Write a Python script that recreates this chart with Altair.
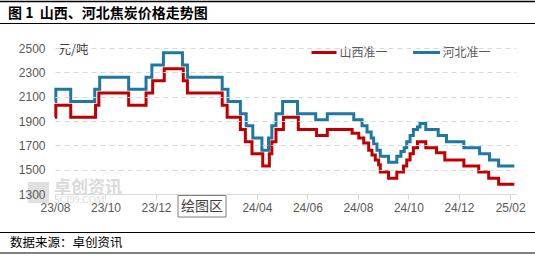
import altair as alt
import pandas as pd

# ---------------- data (step change points) ----------------
series_names = ["山西准一", "河北准一"]
series_colors = ["#C00000", "#1F77A4"]

sx_dates = ["2023-08-01", "2023-08-02", "2023-08-20", "2023-09-19", "2023-09-23", "2023-10-29",
            "2023-11-19", "2023-11-27", "2023-12-11", "2024-01-03", "2024-01-08", "2024-02-19",
            "2024-02-25", "2024-03-12", "2024-03-18", "2024-03-26", "2024-04-08", "2024-04-16",
            "2024-04-19", "2024-04-24", "2024-05-03", "2024-05-21", "2024-06-12", "2024-06-25",
            "2024-07-25", "2024-08-02", "2024-08-08", "2024-08-14", "2024-08-18", "2024-08-22",
            "2024-08-26", "2024-08-28", "2024-09-07", "2024-09-17", "2024-09-25", "2024-09-29",
            "2024-10-03", "2024-10-07", "2024-10-12", "2024-10-22", "2024-11-04", "2024-11-14",
            "2024-12-07", "2024-12-25", "2025-01-06", "2025-01-18", "2025-02-06"]
sx_values = [1930, 2030, 1930, 2030, 2130, 2030,
             2130, 2230, 2330, 2230, 2130, 2030,
             1930, 1830, 1730, 1630, 1530, 1630,
             1730, 1830, 1930, 1830, 1780, 1830,
             1800, 1760, 1720, 1660, 1620, 1580,
             1540, 1480, 1430, 1480, 1530, 1580,
             1630, 1680, 1730, 1680, 1640, 1580,
             1530, 1480, 1430, 1380, 1380]

hb_dates = ["2023-08-01", "2023-08-02", "2023-08-20", "2023-09-18", "2023-09-24", "2023-10-29",
            "2023-11-19", "2023-11-26", "2023-12-10", "2024-01-02", "2024-01-08", "2024-02-19",
            "2024-02-26", "2024-03-12", "2024-03-19", "2024-03-27", "2024-04-07", "2024-04-15",
            "2024-04-19", "2024-04-24", "2024-05-02", "2024-05-20", "2024-06-11", "2024-06-25",
            "2024-07-27", "2024-08-06", "2024-08-12", "2024-08-17", "2024-08-20", "2024-08-24",
            "2024-08-28", "2024-09-07", "2024-09-17", "2024-09-22", "2024-09-26", "2024-09-29",
            "2024-10-03", "2024-10-07", "2024-10-12", "2024-10-15", "2024-10-22", "2024-11-06",
            "2024-11-16", "2024-12-07", "2024-12-26", "2025-01-07", "2025-01-18", "2025-02-06"]
hb_values = [2060, 2160, 2060, 2160, 2260, 2160,
             2260, 2360, 2460, 2360, 2260, 2160,
             2060, 1960, 1860, 1760, 1660, 1760,
             1860, 1960, 2060, 1960, 1910, 1960,
             1910, 1860, 1810, 1760, 1710, 1660,
             1610, 1560, 1610, 1650, 1680, 1730,
             1780, 1830, 1850, 1880, 1830, 1780,
             1730, 1680, 1630, 1580, 1530, 1530]

x_tick_months = [(2023, 8), (2023, 10), (2023, 12), (2024, 2), (2024, 4), (2024, 6),
                 (2024, 8), (2024, 10), (2024, 12), (2025, 2)]
y_ticks = [1300, 1500, 1700, 1900, 2100, 2300, 2500]

title_text = "图 1\u00a0\u00a0山西、河北焦炭价格走势图"
source_text = "数据来源：卓创资讯"
unit_text = "元/吨"

# ---------------- build table ----------------
df = pd.concat([
    pd.DataFrame({"date": [d + "T00:00:00" for d in sx_dates], "value": sx_values, "series": series_names[0]}),
    pd.DataFrame({"date": [d + "T00:00:00" for d in hb_dates], "value": hb_values, "series": series_names[1]}),
], ignore_index=True)

CJK = "Noto Sans CJK SC"
LAT = "Liberation Sans"
W, H = 461, 146

one = pd.DataFrame({"k": [0]})


def text_layer(txt, x, y, size, color, weight="normal", align="left", font=CJK):
    return alt.Chart(one).mark_text(text=txt, align=align, baseline="middle", fontSize=size,
                                    color=color, fontWeight=weight, font=font).encode(
        x=alt.value(x), y=alt.value(y))


def hline(x1, x2, y, color, w):
    return alt.Chart(one).mark_rule(color=color, strokeWidth=w).encode(
        x=alt.value(x1), x2=alt.value(x2), y=alt.value(y))


# watermark (drawn first, under the data)
logo = alt.Chart(one).mark_rect(fill="#E0E0E0").encode(
    x=alt.value(-27), x2=alt.value(-6), y=alt.value(134), y2=alt.value(155))
wm1 = text_layer("卓创资讯", -1, 140, 17, "#DADADA", weight="bold")
wm2 = text_layer("SCI99.COM", -1, 152, 10, "#DADADA", font="Liberation Serif")

lines = alt.Chart(df).mark_line(strokeWidth=3, interpolate="step-after").encode(
    x=alt.X("date:T",
            scale=alt.Scale(domain=[alt.DateTime(year=2023, month=8, date=1),
                                    alt.DateTime(year=2025, month=2, date=8)]),
            axis=alt.Axis(values=[alt.DateTime(year=y, month=m, date=1) for y, m in x_tick_months],
                          format="%y/%m", title=None, grid=False,
                          labelFont=LAT, labelFontSize=12, labelColor="#595959",
                          labelPadding=3, tickSize=5, tickColor="#D9D9D9",
                          domainColor="#D9D9D9", domainWidth=1, labelFlush=False)),
    y=alt.Y("value:Q",
            scale=alt.Scale(domain=[1300, 2500], nice=False, zero=False),
            axis=alt.Axis(values=y_ticks, format="d", title=None, domain=False, ticks=False,
                          grid=True, gridDash=[5, 4], gridColor="#D9D9D9",
                          labelFont=LAT, labelFontSize=12, labelColor="#595959",
                          labelPadding=10, zindex=1)),
    color=alt.Color("series:N", scale=alt.Scale(domain=series_names, range=series_colors),
                    legend=None),
)

# "绘图区" tooltip box
box = alt.Chart(one).mark_rect(fill="white", stroke="#7F7F7F", strokeWidth=1).encode(
    x=alt.value(123), x2=alt.value(171), y=alt.value(147.5), y2=alt.value(169))
box_t = text_layer("绘图区", 147, 158.5, 14, "#404040", align="center")

# legend (manual)
leg = [
    hline(256.5, 281.5, 4.5, series_colors[0], 3),
    text_layer(series_names[0], 284.5, 4.5, 12, "#595959"),
    hline(358, 385, 4.5, series_colors[1], 3),
    text_layer(series_names[1], 387.5, 4.5, 12, "#595959"),
]

unit = text_layer(unit_text, 3.5, 2, 12.5, "#404040")

# title & source frame
frame = [
    hline(-55, 480, -46.5, "black", 1.5),
    text_layer(title_text, -47, -34.5, 14, "black", weight="bold"),
    hline(-55, 480, -24.5, "black", 1.2),
    hline(-55, 480, 184.5, "black", 1.2),
    text_layer(source_text, -45, 194.5, 12.5, "black"),
    hline(-55, 480, 205, "black", 1.2),
]

chart = alt.layer(logo, wm1, wm2, lines, *leg, unit, box, box_t, *frame).properties(
    width=W, height=H,
    autosize=alt.AutoSizeParams(type="none"),
    padding={"left": 55, "top": 48, "right": 19, "bottom": 62},
    background="white",
).configure_view(stroke=None)

chart.save("out.html", embed_options={"renderer": "svg", "actions": False})
